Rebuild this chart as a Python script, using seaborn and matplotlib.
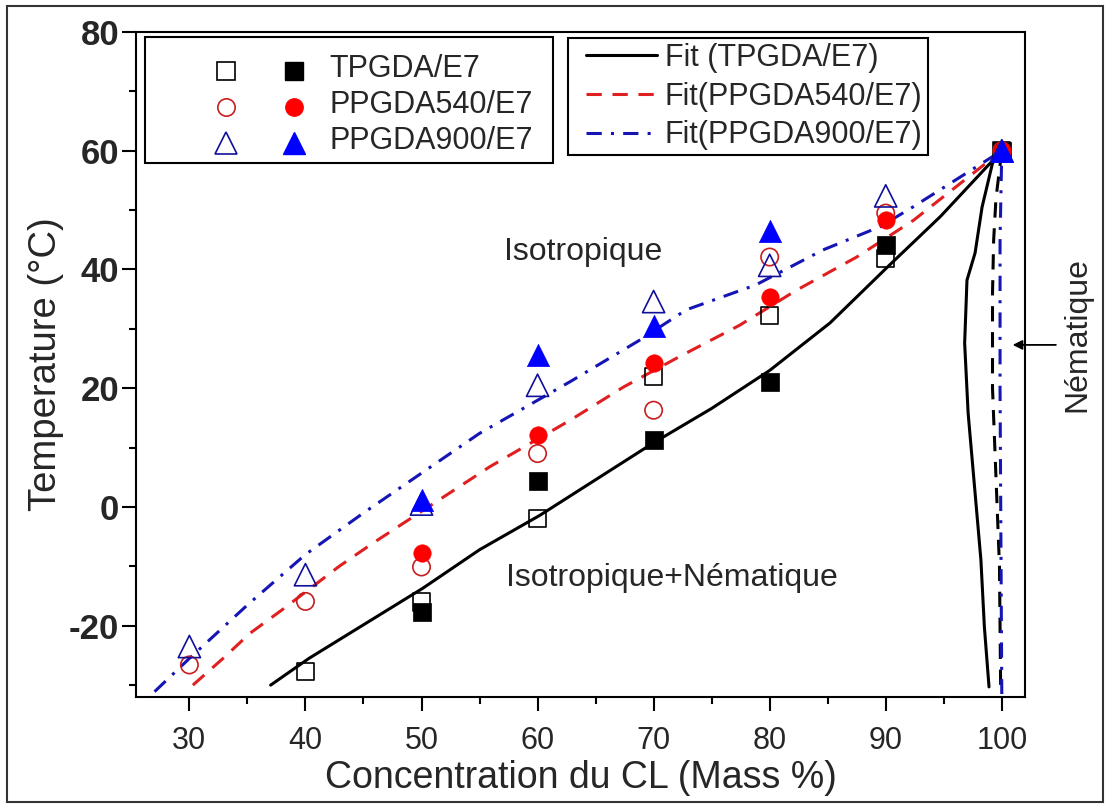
import matplotlib
matplotlib.use("Agg")
import matplotlib.pyplot as plt
import seaborn as sns
from matplotlib.lines import Line2D
from matplotlib.legend_handler import HandlerTuple, HandlerLine2D
from matplotlib.patches import Rectangle
from matplotlib.ticker import MultipleLocator

# ---- measured transition temperatures (open = heating, filled = cooling) ----
tp_x_open = [40, 50, 60, 70, 80, 90, 100]
tp_open = [-27.7, -16.0, -1.9, 22.0, 32.3, 41.9, 60.0]
tp_x_fill = [50, 60, 70, 80, 90, 100]
tp_fill = [-17.6, 4.3, 11.3, 21.1, 44.1, 60.0]

p540_x_open = [30, 40, 50, 60, 70, 80, 90, 100]
p540_open = [-26.6, -15.9, -10.1, 9.0, 16.3, 42.1, 49.5, 60.0]
p540_x_fill = [50, 60, 70, 80, 90, 100]
p540_fill = [-7.8, 12.1, 24.2, 35.4, 48.3, 60.0]

p900_x_open = [30, 40, 50, 60, 70, 80, 90, 100]
p900_open = [-23.5, -11.4, 0.5, 20.5, 34.6, 40.7, 52.4, 60.0]
p900_x_fill = [50, 60, 70, 80, 100]
p900_fill = [1.2, 25.6, 30.4, 46.4, 60.0]

# ---- fitted phase boundaries (liquidus + return branch near pure CL) ----
fit_tp_x = [37.0, 40.3, 50.1, 55.0, 60.2, 69.9, 75.0, 80.0, 85.2, 90.3, 94.7, 100.0,
            99.2, 98.3, 97.7, 97.0, 96.8, 97.1, 98.2, 98.5, 98.9]
fit_tp_y = [-30.0, -25.5, -13.7, -7.2, -1.4, 10.7, 16.6, 23.0, 31.0, 40.7, 48.9, 60.0,
            57.9, 50.5, 42.8, 38.2, 27.6, 15.8, -8.9, -20.2, -30.3]

fit_540_x = [30.3, 32.9, 35.2, 38.0, 42.9, 45.8, 55.9, 62.8, 67.4, 72.2, 77.4,
             82.3, 87.5, 92.4, 100.0]
fit_540_y = [-30.0, -25.5, -21.3, -17.3, -10.0, -6.1, 6.8, 14.6, 20.2, 25.3, 30.6,
             36.5, 42.1, 48.3, 60.0]
# nematic boundary drawn dashed in black
nem_540_x = [100.0, 99.5, 99.3, 99.2, 99.2, 99.4, 99.6, 99.8, 99.9]
nem_540_y = [60.0, 52.0, 45.0, 36.0, 20.0, 10.0, 0.0, -10.0, -30.0]

fit_900_x = [27.0, 30.0, 35.0, 40.0, 45.0, 50.0, 55.0, 62.8, 68.8, 72.8,
             78.8, 84.6, 89.5, 92.4, 100.0, 99.85, 99.85, 100.0]
fit_900_y = [-31.1, -25.5, -16.5, -8.0, -1.0, 5.7, 12.4, 21.1, 28.1, 33.2,
             37.4, 43.3, 47.2, 50.6, 60.0, 45.0, 20.0, -31.5]

x_ticks = [30, 40, 50, 60, 70, 80, 90, 100]
y_ticks = [-20, 0, 20, 40, 60, 80]

RED = "#FF0000"
RED_EDGE = "#C81E1E"
RED_LINE = "#E02020"
BLUE = "#0000FF"
BLUE_EDGE = "#10109A"
BLUE_LINE = "#1515B5"

sns.set_theme(style="ticks")
plt.rcParams["font.family"] = ["Liberation Sans", "DejaVu Sans"]
plt.rcParams["axes.unicode_minus"] = False

fig = plt.figure(figsize=(11.1, 8.09), dpi=100)
ax = fig.add_axes([136 / 1110, 1 - 697 / 809, 889 / 1110, 665 / 809])

# fitted curves
sns.lineplot(x=fit_tp_x, y=fit_tp_y, sort=False, estimator=None, ax=ax,
             color="black", linewidth=2.2, zorder=2)
sns.lineplot(x=fit_540_x, y=fit_540_y, sort=False, estimator=None, ax=ax,
             color=RED_LINE, linewidth=2.2, linestyle=(0, (5, 3.5)), zorder=2)
sns.lineplot(x=nem_540_x, y=nem_540_y, sort=False, estimator=None, ax=ax,
             color="black", linewidth=2.2, linestyle=(0, (5, 3.5)), zorder=2)
sns.lineplot(x=fit_900_x, y=fit_900_y, sort=False, estimator=None, ax=ax,
             color=BLUE_LINE, linewidth=2.2, linestyle=(0, (5, 3, 1, 3)), zorder=2)

MS_SQ = 12.5
MS_CI = 12.5
MS_TR = 16.0


def open_pts(x, y, marker, ms, edge):
    sns.scatterplot(x=x, y=y, ax=ax, marker=marker, s=ms ** 2, color=edge,
                    facecolor="none", edgecolor=edge, linewidth=1.2, zorder=3)


def filled_pts(x, y, marker, ms, col):
    sns.scatterplot(x=x, y=y, ax=ax, marker=marker, s=ms ** 2, color=col,
                    edgecolor=col, linewidth=0.5, zorder=3)


open_pts(tp_x_open, tp_open, "s", MS_SQ, "black")
filled_pts(tp_x_fill, tp_fill, "s", MS_SQ, "black")
open_pts(p540_x_open, p540_open, "o", MS_CI, RED_EDGE)
filled_pts(p540_x_fill, p540_fill, "o", MS_CI, RED)
open_pts(p900_x_open, p900_open, "^", MS_TR, BLUE_EDGE)
filled_pts(p900_x_fill, p900_fill, "^", MS_TR, BLUE)

# axes
ax.set_xlim(25.4, 102.0)
ax.set_ylim(-32, 80)
ax.set_xticks(x_ticks)
ax.set_yticks(y_ticks)
ax.xaxis.set_minor_locator(MultipleLocator(5))
ax.yaxis.set_minor_locator(MultipleLocator(10))
ax.tick_params(which="major", direction="out", length=10, width=1.5, color="black",
               top=False, right=False)
ax.tick_params(which="minor", direction="out", length=5, width=1.5, color="black",
               top=False, right=False)
ax.tick_params(axis="x", labelsize=22, pad=11)
ax.tick_params(axis="y", labelsize=25, pad=2)
for lab in ax.get_yticklabels():
    lab.set_fontweight("bold")
for sp in ax.spines.values():
    sp.set_visible(True)
    sp.set_linewidth(1.5)
    sp.set_color("black")

ax.set_xlabel("Concentration du CL (Mass %)", fontsize=27, labelpad=3)
ax.set_ylabel("Temperature (°C)", fontsize=27.5, labelpad=4)

# region labels
ax.text(63.9, 43.0, "Isotropique", fontsize=23, ha="center", va="center")
ax.text(71.6, -11.9, "Isotropique+Nématique", fontsize=23, ha="center", va="center")
ax.text(106.5, 29.0, "Nématique", fontsize=23, rotation=90, ha="center", va="center",
        clip_on=False)
ax.annotate("", xy=(100.7, 27.3), xytext=(104.9, 27.3), annotation_clip=False,
            arrowprops=dict(arrowstyle="-|>", color="black", lw=1.3,
                            mutation_scale=14))


class ShiftedTuple(HandlerTuple):
    """Tuple handler whose markers are offset by (dx, dy) points."""

    def __init__(self, dx, dy=0.0, **kw):
        super().__init__(**kw)
        self.dx = dx
        self.dy = dy

    def create_artists(self, legend, orig_handle, xdescent, ydescent, width, height,
                       fontsize, trans):
        return super().create_artists(legend, orig_handle, xdescent - self.dx,
                                      ydescent + self.dy, width, height, fontsize,
                                      trans)


class ShiftedLine(HandlerLine2D):
    """Line handler pushed to the right by `shift` points."""

    def __init__(self, shift, **kw):
        super().__init__(**kw)
        self.shift = shift

    def create_artists(self, legend, orig_handle, xdescent, ydescent, width, height,
                       fontsize, trans):
        return super().create_artists(legend, orig_handle, xdescent - self.shift,
                                      ydescent, width, height, fontsize, trans)


LEG_FS = 22

# legend: experimental points
h_tp = (Line2D([], [], ls="none", marker="s", ms=MS_SQ, mfc="none", mec="black", mew=1.2),
        Line2D([], [], ls="none", marker="s", ms=MS_SQ, mfc="black", mec="black"))
h_540 = (Line2D([], [], ls="none", marker="o", ms=MS_CI, mfc="none", mec=RED_EDGE, mew=1.2),
         Line2D([], [], ls="none", marker="o", ms=MS_CI, mfc=RED, mec=RED))
h_900 = (Line2D([], [], ls="none", marker="^", ms=MS_TR, mfc="none", mec=BLUE_EDGE, mew=1.2),
         Line2D([], [], ls="none", marker="^", ms=MS_TR, mfc=BLUE, mec=BLUE))
leg1 = ax.legend([h_tp, h_540, h_900], ["TPGDA/E7", "PPGDA540/E7", "PPGDA900/E7"],
                 handler_map={tuple: ShiftedTuple(33.3, 6.0, ndivide=None, pad=0.3)},
                 loc="upper left", bbox_to_anchor=(0.0101, 0.5, 0.4589, 0.4925),
                 mode="expand", borderaxespad=0,
                 fontsize=LEG_FS, handlelength=4.1, handletextpad=1.75,
                 labelspacing=0.2, borderpad=0.2, fancybox=False, framealpha=1,
                 edgecolor="black", numpoints=1, title=" ", title_fontsize=3.8)
leg1.get_frame().set_linewidth(1.5)
ax.add_artist(leg1)

# legend: fits
f_tp = Line2D([], [], color="black", lw=2.2)
f_540 = Line2D([], [], color=RED_LINE, lw=2.2, ls=(0, (5, 3.5)))
f_900 = Line2D([], [], color=BLUE_LINE, lw=2.2, ls=(0, (5, 3, 1, 3)))
line_handler = ShiftedLine(9.5)
leg2 = ax.legend([f_tp, f_540, f_900],
                 ["Fit (TPGDA/E7)", "Fit(PPGDA540/E7)", "Fit(PPGDA900/E7)"],
                 handler_map={f_tp: line_handler, f_540: line_handler,
                              f_900: line_handler},
                 loc="upper left", bbox_to_anchor=(0.486, 0.991), borderaxespad=0,
                 fontsize=LEG_FS, handlelength=2.3, handletextpad=0.7,
                 labelspacing=0.28, borderpad=0.17, fancybox=False, framealpha=1,
                 edgecolor="black")
leg2.get_frame().set_linewidth(1.5)

# outer frame of the figure
fig.patches.append(Rectangle((7 / 1110, 1 - 802 / 809), 1096 / 1110, 796 / 809,
                             transform=fig.transFigure, fill=False,
                             edgecolor="#333333", linewidth=1.5))

fig.savefig("out.png", dpi=100)
